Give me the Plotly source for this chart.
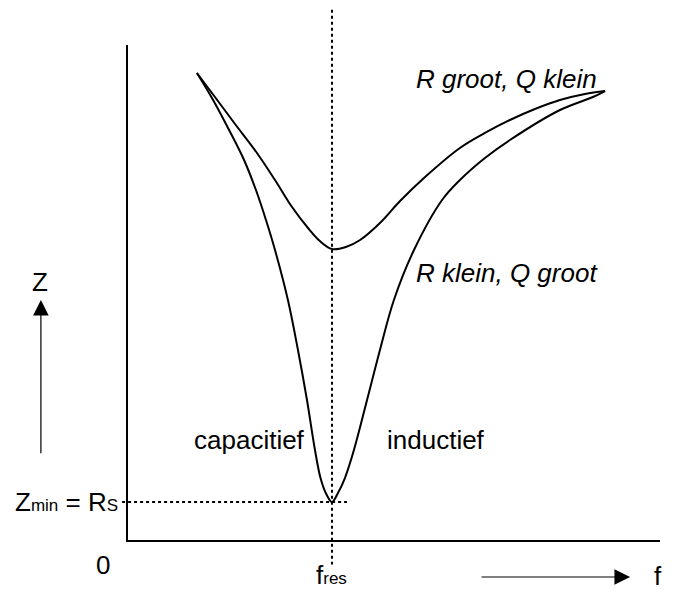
import plotly.graph_objects as go

# Impedance of a series resonant circuit versus frequency (f_res = 1, Z_min = 1)
f_low_q = [0.341, 0.429, 0.527, 0.634, 0.722, 0.805, 0.883, 0.941, 1.000, 1.068,
           1.137, 1.234, 1.332, 1.454, 1.624, 1.746, 1.868, 1.990, 2.112, 2.234, 2.332]
z_low_q = [12.000, 11.385, 10.692, 9.949, 9.256, 8.564, 8.026, 7.692, 7.487, 7.538,
           7.718, 8.154, 8.718, 9.333, 10.077, 10.462, 10.795, 11.077, 11.308, 11.462, 11.538]

f_high_q = [0.341, 0.420, 0.498, 0.571, 0.629, 0.678, 0.722, 0.785, 0.834, 0.878,
            0.917, 0.944, 0.972, 1.000, 1.029, 1.063, 1.107, 1.171, 1.234, 1.302,
            1.400, 1.537, 1.624, 1.746, 1.868, 2.112, 2.273, 2.332]
z_high_q = [12.000, 11.308, 10.538, 9.769, 9.000, 8.231, 7.462, 6.179, 4.897, 3.615,
            2.333, 1.615, 1.205, 1.000, 1.231, 1.615, 2.333, 3.615, 4.897, 6.179,
            7.462, 8.744, 9.256, 9.821, 10.282, 11.051, 11.385, 11.538]

f_res = 1.0
z_min = 1.0
f_axis_end = 2.60
z_axis_end = 12.72

FONT = "Liberation Sans"
FS = 26
SMALL = 17
BLACK = "#000000"

fig = go.Figure()

# axes of the diagram
fig.add_trace(go.Scatter(x=[0, 0, f_axis_end], y=[z_axis_end, 0, 0], mode="lines",
                         line=dict(color=BLACK, width=2), hoverinfo="skip"))

# dotted guides at the resonance point
fig.add_trace(go.Scatter(x=[f_res, f_res], y=[13.62, -0.60], mode="lines",
                         line=dict(color=BLACK, width=2, dash="dot"), hoverinfo="skip"))
fig.add_trace(go.Scatter(x=[-0.024, 1.073], y=[z_min, z_min], mode="lines",
                         line=dict(color=BLACK, width=2, dash="dot"), hoverinfo="skip"))

# the two resonance curves
fig.add_trace(go.Scatter(x=f_low_q, y=z_low_q, mode="lines",
                         line=dict(color=BLACK, width=2, shape="spline", smoothing=1.0),
                         name="R groot, Q klein"))
fig.add_trace(go.Scatter(x=f_high_q, y=z_high_q, mode="lines",
                         line=dict(color=BLACK, width=2, shape="spline", smoothing=1.0),
                         name="R klein, Q groot"))


def small(s):
    return f'<span style="font-size:{SMALL}px">{s}</span>'


def label(text, x, y, xanchor="center", italic=False):
    fig.add_annotation(x=x, y=y, xref="x", yref="y", text=text, showarrow=False,
                       xanchor=xanchor, yanchor="middle", borderpad=0,
                       font=dict(family=FONT, size=FS, color=BLACK,
                                 style="italic" if italic else "normal"))


label("R groot, Q klein", 1.405, 11.85, xanchor="left", italic=True)
label("R klein, Q groot", 1.405, 6.87, xanchor="left", italic=True)
label("capacitief", 0.322, 2.59, xanchor="left")
label("inductief", 1.265, 2.59, xanchor="left")
label("Z", -0.424, 6.64)
label("0", -0.117, -0.615)
label("f" + small("res"), f_res, -0.88)
label("f", 2.59, -0.90)
label("Z" + small("min") + " = R" + small("S"), -0.040, z_min, xanchor="right")


def arrow(x0, y0, x1, y1):
    fig.add_annotation(x=x1, y=y1, ax=x0, ay=y0, xref="x", yref="y", axref="x", ayref="y",
                       text="", showarrow=True, arrowhead=2, arrowsize=2.6,
                       arrowwidth=1.2, arrowcolor=BLACK, standoff=0)


arrow(-0.42, 2.21, -0.42, 6.18)
arrow(1.722, -0.923, 2.454, -0.923)

fig.update_layout(
    width=685, height=590, margin=dict(l=0, r=0, t=0, b=0),
    paper_bgcolor="white", plot_bgcolor="white", showlegend=False,
    xaxis=dict(range=[-0.6195, 2.7220], visible=False, fixedrange=True),
    yaxis=dict(range=[-1.2564, 13.872], visible=False, fixedrange=True),
)

fig.write_html("out.html")
